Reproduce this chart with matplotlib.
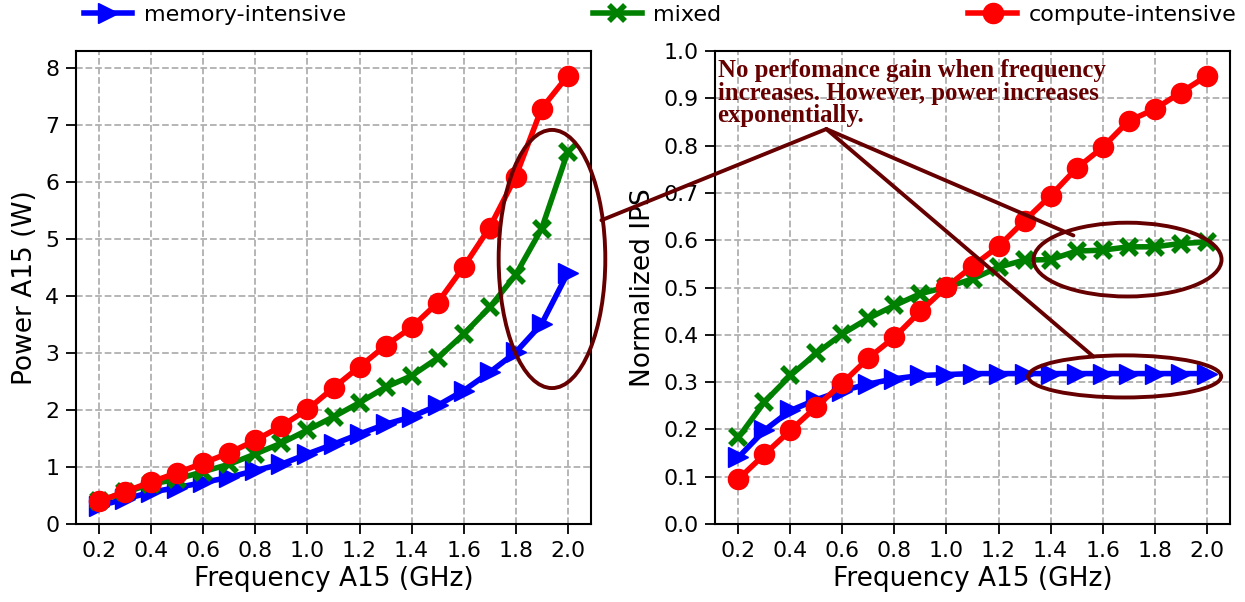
import matplotlib
matplotlib.use("Agg")
import matplotlib.pyplot as plt
from matplotlib.patches import Ellipse, ConnectionPatch

freq = [0.2, 0.3, 0.4, 0.5, 0.6, 0.7, 0.8, 0.9, 1.0, 1.1, 1.2, 1.3, 1.4, 1.5, 1.6, 1.7, 1.8, 1.9, 2.0]

power_mem = [0.32, 0.44, 0.56, 0.64, 0.73, 0.82, 0.94, 1.05, 1.23, 1.40, 1.58, 1.75, 1.88, 2.08, 2.34, 2.66, 3.01, 3.51, 4.40]
power_mixed = [0.40, 0.56, 0.70, 0.79, 0.92, 1.05, 1.23, 1.42, 1.65, 1.88, 2.13, 2.40, 2.60, 2.91, 3.33, 3.80, 4.37, 5.18, 6.52]
power_comp = [0.40, 0.57, 0.74, 0.90, 1.07, 1.25, 1.47, 1.72, 2.01, 2.39, 2.76, 3.13, 3.45, 3.88, 4.51, 5.20, 6.09, 7.29, 7.86]

ips_mem = [0.141, 0.198, 0.240, 0.263, 0.282, 0.296, 0.307, 0.314, 0.316, 0.318, 0.318, 0.318, 0.318, 0.318, 0.318, 0.318, 0.318, 0.318, 0.318]
ips_mixed = [0.183, 0.258, 0.314, 0.361, 0.402, 0.435, 0.462, 0.487, 0.501, 0.518, 0.543, 0.558, 0.559, 0.577, 0.579, 0.586, 0.586, 0.593, 0.596]
ips_comp = [0.095, 0.147, 0.198, 0.248, 0.298, 0.351, 0.395, 0.450, 0.501, 0.545, 0.587, 0.641, 0.694, 0.752, 0.796, 0.852, 0.877, 0.912, 0.947]

labels = ["memory-intensive", "mixed", "compute-intensive"]
xticks = [0.2, 0.4, 0.6, 0.8, 1.0, 1.2, 1.4, 1.6, 1.8, 2.0]
note = "No perfomance gain when frequency\nincreases. However, power increases\nexponentially."

DARK = "#660000"
plt.rcParams['font.family'] = ['DejaVu Sans']

fig = plt.figure(figsize=(12.45, 6.02), dpi=100)
ax1 = fig.add_axes([76/1245, 78/602, 515/1245, 473/602])
ax2 = fig.add_axes([715/1245, 78/602, 515/1245, 473/602])

styles = [dict(color="blue", marker=">", ms=14, mew=1),
          dict(color="green", marker="x", ms=11, mew=4),
          dict(color="red", marker="o", ms=14.5, mew=1)]

def draw(ax, series):
    hs = []
    for vals, st, lab in zip(series, styles, labels):
        h, = ax.plot(freq, vals, lw=4, label=lab, **st)
        hs.append(h)
    ax.grid(True, ls="--", color="#b0b0b0", lw=1.3)
    ax.set_xticks(xticks)
    ax.set_xticklabels([f"{t:.1f}" for t in xticks])
    ax.tick_params(labelsize=15.8, length=7, width=1.3, pad=5)
    ax.set_xlabel("Frequency A15 (GHz)", fontsize=19, labelpad=4)
    for s in ax.spines.values():
        s.set_linewidth(1.5)
    return hs

hs = draw(ax1, [power_mem, power_mixed, power_comp])
ax1.set_ylim(0, 8.3)
ax1.set_ylabel("Power A15 (W)", fontsize=19, labelpad=5)

draw(ax2, [ips_mem, ips_mixed, ips_comp])
ax2.set_ylim(0, 1.0)
ax2.set_yticks([i/10 for i in range(11)])
ax2.set_ylabel("Normalized IPS", fontsize=19, labelpad=5)

# ellipses
e1 = Ellipse((1.94, 4.65), 0.41, 4.53, fill=False, ec=DARK, lw=2.8, clip_on=False, zorder=5)
ax1.add_patch(e1)
e2 = Ellipse((1.696, 0.559), 0.723, 0.156, fill=False, ec=DARK, lw=2.8, clip_on=False, zorder=5)
ax2.add_patch(e2)
e3 = Ellipse((1.685, 0.312), 0.742, 0.089, fill=False, ec=DARK, lw=2.8, clip_on=False, zorder=5)
ax2.add_patch(e3)

ax2.text(0.12, 0.983, note, fontsize=17.8, fontweight="bold", color=DARK,
         family=["Liberation Serif"], va="top", ha="left", linespacing=0.98, zorder=6)

src = (0.538, 0.835)
for dst, axd in [((1.488, 0.610), ax2), ((1.565, 0.354), ax2), ((2.13, 5.33), ax1)]:
    cp = ConnectionPatch(xyA=src, coordsA=ax2.transData, xyB=dst, coordsB=axd.transData,
                         color=DARK, lw=2.8, zorder=7)
    fig.add_artist(cp)

fig.legend(hs, labels, loc="upper left", ncol=3, mode="expand",
           bbox_to_anchor=(0.06, 1.006, 0.94, 0.0), frameon=False, fontsize=16,
           handlelength=2.2, handletextpad=0.5, borderaxespad=0.0)

fig.savefig("out.png", dpi=100)
